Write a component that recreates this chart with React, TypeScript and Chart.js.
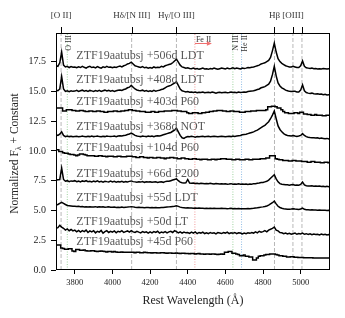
import React, { useEffect, useRef } from "react";
import { Chart, registerables } from "chart.js";
Chart.register(...registerables);

// Rest wavelength grid (Å)
const WAVE = [
  3700, 3710, 3720, 3730, 3740, 3750, 3760, 3770, 3780, 3790,
  3800, 3810, 3820, 3830, 3840, 3850, 3860, 3870, 3880, 3890,
  3900, 3910, 3920, 3930, 3940, 3950, 3960, 3970, 3980, 3990,
  4000, 4010, 4020, 4030, 4040, 4050, 4060, 4070, 4080, 4090,
  4100, 4110, 4120, 4130, 4140, 4150, 4160, 4170, 4180, 4190,
  4200, 4210, 4220, 4230, 4240, 4250, 4260, 4270, 4280, 4290,
  4300, 4310, 4320, 4330, 4340, 4350, 4360, 4370, 4380, 4390,
  4400, 4410, 4420, 4430, 4440, 4450, 4460, 4470, 4480, 4490,
  4500, 4510, 4520, 4530, 4540, 4550, 4560, 4570, 4580, 4590,
  4600, 4610, 4620, 4630, 4640, 4650, 4660, 4670, 4680, 4690,
  4700, 4710, 4720, 4730, 4740, 4750, 4760, 4770, 4780, 4790,
  4800, 4810, 4820, 4830, 4840, 4850, 4860, 4870, 4880, 4890,
  4900, 4910, 4920, 4930, 4940, 4950, 4960, 4970, 4980, 4990,
  5000, 5010, 5020, 5030, 5040, 5050, 5060, 5070, 5080, 5090,
  5100, 5110, 5120, 5130, 5140, 5150, 5160,
];

const F_506_LDT = [
  17.15, 17.1, 17.4, 18.3, 17.2, 17.05, 17.1, 17.0, 17.08, 17.02,
  17.05, 16.98, 17.06, 17.0, 17.1, 17.02, 16.95, 17.05, 17.1, 17.0,
  17.04, 16.97, 17.08, 17.0, 16.95, 17.06, 17.0, 17.1, 17.02, 17.05,
  16.98, 17.05, 17.0, 17.08, 17.12, 17.05, 17.15, 17.2, 17.3, 17.35,
  17.45, 17.3, 17.15, 17.1, 17.05, 17.0, 17.08, 16.98, 17.02, 16.95,
  17.0, 16.95, 17.05, 16.98, 17.02, 17.0, 17.1, 17.05, 17.15, 17.2,
  17.25, 17.3, 17.4, 17.55, 17.7, 17.45, 17.2, 17.05, 17.0, 16.95,
  16.98, 16.92, 16.9, 16.95, 16.88, 16.92, 16.85, 16.9, 16.95, 16.88,
  16.9, 16.85, 16.92, 16.88, 16.95, 16.9, 16.85, 16.9, 16.95, 16.92,
  16.88, 16.95, 16.9, 16.92, 16.98, 16.9, 16.95, 16.92, 16.88, 16.95,
  16.92, 16.95, 17.0, 16.98, 17.02, 17.05, 17.1, 17.15, 17.2, 17.3,
  17.35, 17.4, 17.5, 17.6, 17.85, 18.4, 19.05, 18.3, 17.75, 17.5,
  17.35, 17.25, 17.15, 17.1, 17.05, 17.05, 17.1, 17.05, 17.0, 17.0,
  17.15, 17.55, 17.1, 16.98, 16.95, 16.92, 16.95, 16.9, 16.92, 16.88,
  16.9, 16.88, 16.92, 16.9, 16.88, 16.9, 16.92,
];

const F_408_LDT = [
  15.1, 15.05, 15.2, 16.25, 15.2, 15.0, 15.05, 14.98, 15.05, 15.0,
  15.02, 15.08, 15.0, 15.05, 15.1, 15.02, 15.06, 15.0, 15.08, 15.04,
  15.0, 15.06, 15.02, 15.08, 15.0, 15.05, 15.1, 15.04, 15.08, 15.02,
  15.06, 15.0, 15.05, 15.1, 15.12, 15.08, 15.15, 15.2, 15.3, 15.35,
  15.5, 15.35, 15.2, 15.12, 15.08, 15.05, 15.1, 15.02, 15.06, 15.0,
  15.05, 15.0, 15.08, 15.02, 15.06, 15.1, 15.15, 15.2, 15.3, 15.4,
  15.45, 15.5, 15.6, 15.7, 15.8, 15.5, 15.2, 15.05, 15.0, 14.95,
  14.98, 14.92, 14.95, 14.9, 14.95, 14.88, 14.92, 14.9, 14.95, 14.88,
  14.9, 14.92, 14.88, 14.95, 14.9, 14.85, 14.9, 14.92, 14.88, 14.9,
  14.92, 14.88, 14.9, 14.95, 14.9, 14.92, 14.88, 14.95, 14.9, 14.92,
  14.95, 14.92, 14.98, 15.0, 15.02, 15.05, 15.1, 15.15, 15.2, 15.3,
  15.35, 15.4, 15.5, 15.6, 15.85, 16.4, 17.1, 16.3, 15.7, 15.45,
  15.3, 15.2, 15.1, 15.05, 15.0, 14.98, 15.0, 15.0, 14.95, 14.95,
  15.1, 15.55, 15.05, 14.9, 14.85, 14.82, 14.85, 14.8, 14.78, 14.8,
  14.75, 14.78, 14.72, 14.75, 14.7, 14.72, 14.7,
];

const F_403_P60 = [
  13.6, 13.6, 13.6, 13.6, 13.35, 13.35, 13.45, 13.45, 13.45, 13.4,
  13.4, 13.35, 13.35, 13.4, 13.4, 13.35, 13.3, 13.3, 13.35, 13.35,
  13.3, 13.3, 13.35, 13.35, 13.3, 13.3, 13.25, 13.25, 13.3, 13.3,
  13.3, 13.35, 13.35, 13.3, 13.3, 13.35, 13.35, 13.4, 13.4, 13.45,
  13.45, 13.4, 13.4, 13.35, 13.35, 13.3, 13.3, 13.3, 13.25, 13.25,
  13.25, 13.3, 13.3, 13.25, 13.25, 13.3, 13.3, 13.3, 13.35, 13.35,
  13.35, 13.35, 13.4, 13.4, 13.4, 13.35, 13.35, 13.3, 13.3, 13.3,
  13.2, 13.15, 13.15, 13.2, 13.2, 13.2, 13.15, 13.15, 13.2, 13.2,
  13.25, 13.25, 13.3, 13.3, 13.35, 13.35, 13.4, 13.4, 13.4, 13.35,
  13.35, 13.3, 13.3, 13.35, 13.35, 13.3, 13.3, 13.3, 13.25, 13.25,
  13.25, 13.3, 13.3, 13.3, 13.35, 13.35, 13.35, 13.4, 13.4, 13.4,
  13.4, 13.4, 13.45, 13.7, 13.7, 13.75, 13.75, 13.7, 13.6, 13.6,
  13.45, 13.3, 13.2, 13.2, 13.15, 13.15, 13.15, 13.2, 13.2, 13.15,
  13.25, 13.25, 13.1, 13.1, 13.05, 13.05, 13.0, 13.0, 13.05, 13.0,
  13.0, 13.0, 12.95, 12.95, 13.0, 13.0, 13.0,
];

const F_368_NOT = [
  11.35, 11.3, 11.4, 11.6, 11.3, 11.2, 11.25, 11.2, 11.22, 11.18,
  11.2, 11.22, 11.18, 11.2, 11.25, 11.2, 11.18, 11.22, 11.2, 11.25,
  11.2, 11.22, 11.25, 11.2, 11.18, 11.22, 11.2, 11.25, 11.22, 11.2,
  11.22, 11.25, 11.2, 11.25, 11.28, 11.25, 11.3, 11.32, 11.38, 11.42,
  11.5, 11.4, 11.3, 11.25, 11.22, 11.2, 11.25, 11.22, 11.2, 11.25,
  11.22, 11.25, 11.2, 11.25, 11.28, 11.25, 11.3, 11.35, 11.4, 11.45,
  11.5, 11.55, 11.65, 11.75, 11.9, 11.6, 11.3, 11.1, 11.05, 11.15,
  11.2, 11.18, 11.22, 11.2, 11.15, 11.2, 11.18, 11.2, 11.22, 11.18,
  11.2, 11.22, 11.18, 11.2, 11.22, 11.2, 11.18, 11.2, 11.22, 11.2,
  11.18, 11.2, 11.22, 11.2, 11.25, 11.22, 11.25, 11.28, 11.3, 11.35,
  11.38, 11.4, 11.45, 11.5, 11.55, 11.6, 11.68, 11.75, 11.85, 11.95,
  12.05, 12.15, 12.3, 12.45, 12.7, 13.0, 13.35, 12.7, 12.1, 11.8,
  11.6, 11.45, 11.35, 11.3, 11.28, 11.25, 11.3, 11.25, 11.22, 11.25,
  11.3, 11.45, 11.3, 11.2, 11.15, 11.12, 11.1, 11.1, 11.08, 11.1,
  11.05, 11.08, 11.05, 11.02, 11.05, 11.0, 11.02,
];

const F_104_P60 = [
  10.1, 10.1, 9.95, 9.95, 9.85, 9.8, 9.8, 9.75, 9.7, 9.7,
  9.65, 9.6, 9.65, 9.75, 9.75, 9.7, 9.65, 9.6, 9.6, 9.6,
  9.6, 9.55, 9.55, 9.6, 9.6, 9.55, 9.55, 9.5, 9.55, 9.55,
  9.55, 9.5, 9.5, 9.55, 9.55, 9.5, 9.5, 9.5, 9.55, 9.55,
  9.55, 9.5, 9.5, 9.45, 9.45, 9.5, 9.5, 9.45, 9.45, 9.4,
  9.45, 9.45, 9.4, 9.4, 9.45, 9.45, 9.4, 9.4, 9.35, 9.4,
  9.4, 9.45, 9.45, 9.4, 9.4, 9.35, 9.35, 9.4, 9.4, 9.35,
  9.35, 9.3, 9.3, 9.35, 9.35, 9.3, 9.3, 9.25, 9.3, 9.3,
  9.3, 9.25, 9.25, 9.3, 9.3, 9.25, 9.3, 9.3, 9.35, 9.35,
  9.35, 9.3, 9.3, 9.3, 9.25, 9.25, 9.3, 9.3, 9.25, 9.25,
  9.25, 9.3, 9.3, 9.25, 9.25, 9.3, 9.3, 9.3, 9.3, 9.35,
  9.35, 9.35, 9.4, 9.4, 9.6, 9.6, 9.6, 9.35, 9.3, 9.25,
  9.25, 9.2, 9.2, 9.2, 9.15, 9.15, 9.2, 9.2, 9.15, 9.15,
  9.15, 9.1, 9.1, 9.1, 9.05, 9.05, 9.1, 9.1, 9.05, 9.05,
  9.05, 9.0, 9.0, 9.05, 9.05, 9.0, 9.0,
];

const F_66_P200 = [
  7.55, 7.58, 7.6, 8.55, 7.6, 7.45, 7.5, 7.42, 7.48, 7.45,
  7.5, 7.42, 7.46, 7.4, 7.48, 7.44, 7.5, 7.42, 7.45, 7.4,
  7.46, 7.42, 7.48, 7.4, 7.44, 7.38, 7.45, 7.42, 7.4, 7.46,
  7.4, 7.44, 7.38, 7.42, 7.4, 7.45, 7.38, 7.42, 7.4, 7.44,
  7.48, 7.42, 7.4, 7.36, 7.4, 7.38, 7.42, 7.36, 7.4, 7.38,
  7.4, 7.36, 7.38, 7.4, 7.35, 7.38, 7.4, 7.36, 7.42, 7.45,
  7.45, 7.5, 7.55, 7.6, 7.65, 7.5, 7.38, 7.32, 7.3, 7.32,
  7.6, 7.3, 7.28, 7.3, 7.26, 7.28, 7.25, 7.28, 7.26, 7.24,
  7.26, 7.24, 7.28, 7.25, 7.22, 7.26, 7.24, 7.22, 7.25, 7.22,
  7.24, 7.2, 7.22, 7.25, 7.2, 7.22, 7.2, 7.24, 7.2, 7.22,
  7.2, 7.22, 7.18, 7.22, 7.2, 7.25, 7.24, 7.28, 7.3, 7.35,
  7.35, 7.4, 7.45, 7.55, 7.7, 7.85, 8.0, 7.65, 7.4, 7.25,
  7.2, 7.18, 7.15, 7.15, 7.12, 7.15, 7.18, 7.12, 7.14, 7.12,
  7.18, 7.38, 7.15, 7.08, 7.06, 7.05, 7.08, 7.04, 7.06, 7.03,
  7.05, 7.02, 7.04, 7.0, 7.03, 7.0, 7.02,
];

const F_55_LDT = [
  5.45, 5.5, 5.6, 5.68, 5.6, 5.5, 5.42, 5.4, 5.38, 5.36,
  5.36, 5.34, 5.36, 5.32, 5.34, 5.3, 5.32, 5.3, 5.32, 5.3,
  5.3, 5.32, 5.28, 5.3, 5.28, 5.3, 5.27, 5.28, 5.3, 5.27,
  5.27, 5.28, 5.25, 5.27, 5.25, 5.28, 5.25, 5.27, 5.28, 5.3,
  5.32, 5.3, 5.27, 5.25, 5.26, 5.24, 5.25, 5.23, 5.25, 5.24,
  5.23, 5.25, 5.22, 5.24, 5.22, 5.23, 5.25, 5.24, 5.26, 5.28,
  5.3, 5.32, 5.34, 5.36, 5.4, 5.34, 5.28, 5.24, 5.22, 5.2,
  5.22, 5.2, 5.21, 5.19, 5.2, 5.18, 5.2, 5.18, 5.19, 5.17,
  5.18, 5.17, 5.19, 5.17, 5.18, 5.16, 5.17, 5.16, 5.18, 5.16,
  5.17, 5.15, 5.16, 5.18, 5.15, 5.16, 5.14, 5.16, 5.15, 5.14,
  5.15, 5.14, 5.16, 5.15, 5.17, 5.18, 5.2, 5.22, 5.25, 5.28,
  5.3, 5.33, 5.38, 5.45, 5.55, 5.65, 5.78, 5.55, 5.35, 5.25,
  5.18, 5.14, 5.12, 5.1, 5.1, 5.12, 5.15, 5.12, 5.1, 5.08,
  5.12, 5.2, 5.1, 5.06, 5.05, 5.04, 5.05, 5.03, 5.04, 5.02,
  5.03, 5.02, 5.01, 5.02, 5.0, 5.01, 5.0,
];

const F_50_LT = [
  3.5, 3.55, 3.75, 3.6, 3.5, 3.35, 3.45, 3.3, 3.4, 3.28,
  3.35, 3.2, 3.32, 3.18, 3.3, 3.22, 3.35, 3.15, 3.28, 3.2,
  3.3, 3.12, 3.25, 3.18, 3.32, 3.1, 3.22, 3.3, 3.15, 3.25,
  3.18, 3.28, 3.12, 3.25, 3.2, 3.3, 3.15, 3.22, 3.28, 3.18,
  3.3, 3.2, 3.15, 3.25, 3.18, 3.12, 3.22, 3.15, 3.2, 3.1,
  3.2, 3.12, 3.22, 3.15, 3.25, 3.1, 3.18, 3.14, 3.22, 3.12,
  3.2, 3.25, 3.15, 3.3, 3.22, 3.12, 3.2, 3.1, 3.18, 3.12,
  3.15, 3.08, 3.18, 3.1, 3.2, 3.05, 3.15, 3.1, 3.18, 3.06,
  3.12, 3.05, 3.15, 3.08, 3.12, 3.04, 3.14, 3.1, 3.06, 3.15,
  3.1, 3.18, 3.05, 3.12, 3.08, 3.15, 3.05, 3.12, 3.1, 3.02,
  3.1, 3.05, 3.12, 3.08, 3.15, 3.1, 3.2, 3.12, 3.25, 3.18,
  3.22, 3.3, 3.2, 3.35, 3.42, 3.5, 3.6, 3.35, 3.28, 3.15,
  3.12, 3.05, 3.1, 3.02, 3.08, 3.0, 3.05, 3.1, 3.0, 3.06,
  3.02, 3.1, 3.0, 3.05, 2.98, 3.04, 2.96, 3.02, 2.98, 3.0,
  2.95, 3.02, 2.96, 3.0, 2.94, 2.98, 2.95,
];

const F_45_P60 = [
  2.1, 2.1, 2.1, 1.85, 1.8, 1.75, 1.75, 1.78, 1.78, 1.6,
  1.55, 1.72, 1.72, 1.65, 1.65, 1.68, 1.62, 1.6, 1.6, 1.62,
  1.62, 1.58, 1.55, 1.58, 1.6, 1.58, 1.55, 1.52, 1.55, 1.55,
  1.52, 1.55, 1.52, 1.5, 1.5, 1.52, 1.5, 1.48, 1.5, 1.48,
  1.5, 1.48, 1.45, 1.48, 1.48, 1.45, 1.45, 1.48, 1.46, 1.45,
  1.45, 1.42, 1.45, 1.45, 1.42, 1.42, 1.45, 1.44, 1.42, 1.4,
  1.42, 1.42, 1.4, 1.4, 1.42, 1.4, 1.38, 1.4, 1.4, 1.38,
  1.38, 1.36, 1.38, 1.38, 1.35, 1.36, 1.38, 1.35, 1.35, 1.33,
  1.35, 1.35, 1.32, 1.34, 1.35, 1.32, 1.3, 1.32, 1.34, 1.32,
  1.5, 1.5, 1.55, 1.55, 1.4, 1.4, 1.35, 1.3, 1.2, 1.2,
  1.25, 1.15, 1.15, 1.1, 1.1, 0.85, 0.85, 1.0, 1.15, 1.2,
  1.2, 1.25, 1.3, 1.3, 1.35, 1.35, 1.35, 1.3, 1.25, 1.2,
  1.2, 1.15, 1.15, 1.1, 1.1, 1.12, 1.12, 1.08, 1.08, 1.05,
  1.05, 1.05, 1.03, 1.03, 1.02, 1.02, 1.02, 1.0, 1.0, 1.0,
  1.0, 1.0, 1.0, 1.0, 1.0, 1.0, 1.0,
];

const SPECTRA = [F_506_LDT, F_408_LDT, F_403_P60, F_368_NOT, F_104_P60, F_66_P200, F_55_LDT, F_50_LT, F_45_P60];
const SPEC_STEPPED = [false, false, true, false, true, false, false, false, true];
const OBJECT_NAME = "ZTF19aatubsj";
const SPEC_LABELS = ["+506d LDT", "+408d LDT", "+403d P60", "+368d NOT", "+104d P60", "+66d P200", "+55d LDT", "+50d LT", "+45d P60"];
const SPEC_LABEL_Y = [18.05, 16.05, 14.15, 12.1, 10.3, 8.17, 6.16, 4.09, 2.46];
const SPEC_LABEL_WAVE = 3808;

// Line markers
const BALMER_OIII_WAVE = [3727, 4102, 4340, 4861, 4959, 5007];
const OIII_WAVE = [3760];
const NIII_WAVE = [4640];
const HEII_WAVE = [4686];
const FEII_WAVE = [4438];

const TOP_TICK_WAVE = [3727, 4102, 4340, 4861, 4959, 5007];
const TOP_LABELS = ["[O II]", "H\u03b4/[N III]", "H\u03b3/[O III]", "H\u03b2", "[OIII]"];
const TOP_LABEL_WAVE = [3727, 4102, 4340, 4861, 4959];

const SIDE_LABELS = ["O III", "N III", "He II"];
const SIDE_LABEL_WAVE = [3767, 4655, 4705];

const X_MIN = 3700, X_MAX = 5156;
const Y_MIN = 0, Y_MAX = 19.9;
const X_TICKS = [3800, 4000, 4200, 4400, 4600, 4800, 5000];
const Y_TICKS = [0, 2.5, 5, 7.5, 10, 12.5, 15, 17.5];

const SERIF = "'Liberation Serif', 'DejaVu Serif', serif";

const annotPlugin = {
  id: "annot",
  afterDatasetsDraw(chart: any) {
    const { ctx, scales } = chart;
    const xs = scales.x, ys = scales.y;
    ctx.save();
    ctx.font = `12px ${SERIF}`;
    ctx.fillStyle = "#585858";
    ctx.textAlign = "left";
    ctx.textBaseline = "alphabetic";
    SPEC_LABELS.forEach((t, i) => {
      ctx.fillText(`${OBJECT_NAME} ${t}`, xs.getPixelForValue(SPEC_LABEL_WAVE), ys.getPixelForValue(SPEC_LABEL_Y[i]) + 4);
    });
    ctx.restore();
  },
  afterDraw(chart: any) {
    const { ctx, chartArea: a, scales } = chart;
    const xs = scales.x;
    ctx.save();
    // frame
    ctx.strokeStyle = "#000";
    ctx.lineWidth = 1;
    ctx.strokeRect(Math.round(a.left) + 0.5, Math.round(a.top) + 0.5, Math.round(a.right - a.left) - 1, Math.round(a.bottom - a.top) - 1);
    // top ticks
    ctx.beginPath();
    TOP_TICK_WAVE.forEach((w) => {
      const px = Math.round(xs.getPixelForValue(w)) + 0.5;
      ctx.moveTo(px, a.top);
      ctx.lineTo(px, a.top - 6);
    });
    ctx.stroke();
    // top labels
    ctx.font = `9px ${SERIF}`;
    ctx.fillStyle = "#333";
    ctx.textAlign = "center";
    ctx.textBaseline = "alphabetic";
    TOP_LABELS.forEach((t, i) => ctx.fillText(t, xs.getPixelForValue(TOP_LABEL_WAVE[i]), a.top - 15));
    // rotated side labels
    ctx.font = `8px ${SERIF}`;
    ctx.fillStyle = "#333";
    SIDE_LABELS.forEach((t, i) => {
      ctx.save();
      ctx.translate(xs.getPixelForValue(SIDE_LABEL_WAVE[i]), a.top + 2);
      ctx.rotate(-Math.PI / 2);
      ctx.textAlign = "right";
      ctx.textBaseline = "middle";
      ctx.fillText(t, 0, 0);
      ctx.restore();
    });
    // Fe II label and arrow
    const fx = xs.getPixelForValue(FEII_WAVE[0]);
    ctx.font = `8px ${SERIF}`;
    ctx.fillStyle = "#333";
    ctx.textAlign = "left";
    ctx.textBaseline = "alphabetic";
    ctx.fillText("Fe II", fx + 1, a.top + 9);
    ctx.strokeStyle = "#f07070";
    ctx.fillStyle = "#f07070";
    ctx.lineWidth = 1;
    ctx.beginPath();
    ctx.moveTo(fx, a.top + 10.5);
    ctx.lineTo(fx + 13, a.top + 10.5);
    ctx.stroke();
    ctx.beginPath();
    ctx.moveTo(fx + 17, a.top + 10.5);
    ctx.lineTo(fx + 12, a.top + 8.3);
    ctx.lineTo(fx + 12, a.top + 12.7);
    ctx.closePath();
    ctx.fill();
    // axis titles
    ctx.fillStyle = "#222";
    ctx.font = `12px ${SERIF}`;
    ctx.textAlign = "center";
    ctx.textBaseline = "alphabetic";
    ctx.fillText("Rest Wavelength (\u00c5)", (a.left + a.right) / 2, a.bottom + 34);
    ctx.save();
    ctx.translate(18, (a.top + a.bottom) / 2 + 2);
    ctx.rotate(-Math.PI / 2);
    const p1 = "Normalized F";
    const p2 = "\u03bb";
    const p3 = " + Constant";
    ctx.font = `11.5px ${SERIF}`;
    const w1 = ctx.measureText(p1).width;
    const w3 = ctx.measureText(p3).width;
    ctx.font = `8px ${SERIF}`;
    const w2 = ctx.measureText(p2).width;
    const total = w1 + w2 + w3;
    let cx = -total / 2;
    ctx.textAlign = "left";
    ctx.font = `11.5px ${SERIF}`;
    ctx.fillText(p1, cx, 0);
    cx += w1;
    ctx.font = `8px ${SERIF}`;
    ctx.fillText(p2, cx, 2.5);
    cx += w2;
    ctx.font = `11.5px ${SERIF}`;
    ctx.fillText(p3, cx, 0);
    ctx.restore();
    ctx.restore();
  },
};

function vline(w: number, color: string, dash: number[]) {
  return {
    type: "line" as const,
    data: [{ x: w, y: Y_MIN }, { x: w, y: Y_MAX }],
    borderColor: color,
    borderWidth: 1,
    borderDash: dash,
    pointRadius: 0,
    fill: false,
  };
}

export default function App() {
  const ref = useRef<HTMLCanvasElement>(null);
  useEffect(() => {
    if (!ref.current) return;
    const datasets: any[] = SPECTRA.map((f, i) => ({
      type: "line",
      data: WAVE.map((w, j) => ({ x: w, y: f[j] })),
      borderColor: "#000",
      borderWidth: 1.5,
      pointRadius: 0,
      fill: false,
      tension: 0,
      stepped: SPEC_STEPPED[i] ? "middle" : false,
    }));
    BALMER_OIII_WAVE.forEach((w) => datasets.push(vline(w, "#b8b8b8", [4, 2])));
    OIII_WAVE.forEach((w) => datasets.push(vline(w, "#9fd39f", [1, 1.5])));
    NIII_WAVE.forEach((w) => datasets.push(vline(w, "#9fd39f", [1, 1.5])));
    HEII_WAVE.forEach((w) => datasets.push(vline(w, "#8fbce6", [1, 1.5])));
    FEII_WAVE.forEach((w) => datasets.push(vline(w, "#f29a9a", [1, 1.5])));

    const chart = new Chart(ref.current, {
      type: "line",
      data: { datasets },
      options: {
        animation: false,
        responsive: false,
        devicePixelRatio: 1,
        layout: { padding: { top: 33, right: 15, left: 0, bottom: 0 } },
        plugins: { legend: { display: false }, tooltip: { enabled: false } },
        scales: {
          x: {
            type: "linear",
            min: X_MIN,
            max: X_MAX,
            afterBuildTicks: (s: any) => { s.ticks = X_TICKS.map((v) => ({ value: v })); },
            afterFit: (s: any) => { s.height = 48; },
            ticks: {
              font: { family: SERIF, size: 8.5 },
              color: "#222",
              padding: 4,
              maxRotation: 0,
              autoSkip: false,
              callback: (v: any) => String(v),
            },
            grid: { drawOnChartArea: false, drawTicks: true, tickLength: 4, color: "#000" },
            border: { display: false },
          },
          y: {
            type: "linear",
            min: Y_MIN,
            max: Y_MAX,
            afterBuildTicks: (s: any) => { s.ticks = Y_TICKS.map((v) => ({ value: v })); },
            afterFit: (s: any) => { s.width = 56; },
            ticks: {
              font: { family: SERIF, size: 10 },
              color: "#222",
              padding: 5,
              autoSkip: false,
              callback: (v: any) => Number(v).toFixed(1),
            },
            grid: { drawOnChartArea: false, drawTicks: true, tickLength: 5, color: "#000" },
            border: { display: false },
          },
        },
      },
      plugins: [annotPlugin],
    });
    return () => chart.destroy();
  }, []);
  return (
    <div style={{ position: "fixed", left: 0, top: 0, width: 345, height: 318, background: "#fff" }}>
      <canvas ref={ref} width={345} height={318} style={{ display: "block" }} />
    </div>
  );
}
